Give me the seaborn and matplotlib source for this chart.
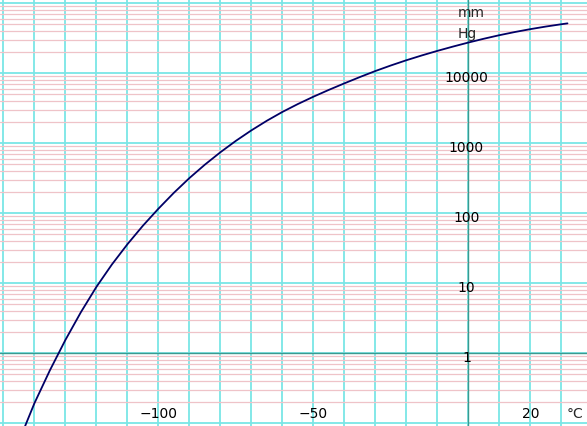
import numpy as np
import pandas as pd
import matplotlib
matplotlib.use("Agg")
import matplotlib.pyplot as plt
import matplotlib.transforms as mtransforms
import seaborn as sns

# vapour pressure curve (deg C, mm Hg)
temp_c = [-143, -140, -135, -130, -125, -120, -115, -110, -105, -100, -95, -90,
          -85, -80, -75, -70, -65, -60, -55, -50, -45, -40, -35, -30, -25, -20,
          -15, -10, -5, 0, 5, 10, 15, 20, 25, 30, 32]
press_mmhg = [0.0912, 0.193, 0.571, 1.549, 3.864, 8.87, 18.54, 36.06, 66.37, 116.1,
              196.1, 318.1, 495, 743.8, 1083, 1529, 2099, 2802, 3635, 4624, 5794,
              7178, 8831, 10765, 12930, 15350, 17990, 20890, 24040, 27480, 31150,
              34990, 38860, 42710, 46510, 50180, 51640]

y_labels = [1, 10, 100, 1000, 10000]
x_labels = [-100, -50, 20]

cyan = "#7ae6e6"
pink = "#efc3c8"
axis_col = "#3a9a90"
navy = "#000066"

sns.set_theme(style="white")
plt.rcParams['font.family'] = ['DejaVu Sans']

fig = plt.figure(figsize=(5.87, 4.26), dpi=100)
ax = fig.add_axes([0, 0, 1, 1])

df = pd.DataFrame({"t": temp_c, "p": press_mmhg})
sns.lineplot(data=df, x="t", y="p", ax=ax, color=navy, linewidth=1.3, zorder=5)

ax.set_yscale("log")
ax.set_xlim(-151.1, 38.3)
ax.set_ylim(10 ** -1.039, 10 ** 5.047)

# graph paper grid
ax.set_xticks(np.arange(-150, 40, 10))
ax.set_yticks([10.0 ** k for k in range(-1, 6)])
ax.yaxis.set_minor_locator(matplotlib.ticker.LogLocator(base=10, subs=np.arange(2, 10)))
ax.xaxis.set_minor_locator(matplotlib.ticker.NullLocator())
ax.grid(which="major", axis="both", color=cyan, linewidth=1.3, zorder=1)
ax.grid(which="minor", axis="y", color=pink, linewidth=0.9, zorder=0)
ax.set_axisbelow(True)
ax.tick_params(which="both", length=0, labelbottom=False, labelleft=False)
for s in ax.spines.values():
    s.set_visible(False)
ax.set_xlabel("")
ax.set_ylabel("")

# axes through 0 degC and 1 mm Hg
ax.axvline(0, color=axis_col, linewidth=1.0, zorder=2)
ax.axhline(1, color=axis_col, linewidth=1.0, zorder=2)

for v in y_labels:
    ax.annotate(str(v), (-0.6, v), xytext=(0, -8.5), textcoords="offset pixels",
                ha="center", va="baseline", fontsize=10, color="black", zorder=6)

bt = mtransforms.blended_transform_factory(ax.transData, ax.transAxes)
for v in x_labels:
    ax.text(v, 0.018, "\u2212" + str(-v) if v < 0 else str(v), transform=bt,
            ha="center", va="baseline", fontsize=10, color="black", zorder=6)
ax.text(34.4, 0.018, "°C", transform=bt, ha="center", va="baseline", fontsize=10)
ax.text(1.0, 0.961, "mm", transform=bt, ha="center", va="baseline", fontsize=10)
ax.text(-0.2, 0.910, "Hg", transform=bt, ha="center", va="baseline", fontsize=10)

fig.savefig("out.png", dpi=100)
